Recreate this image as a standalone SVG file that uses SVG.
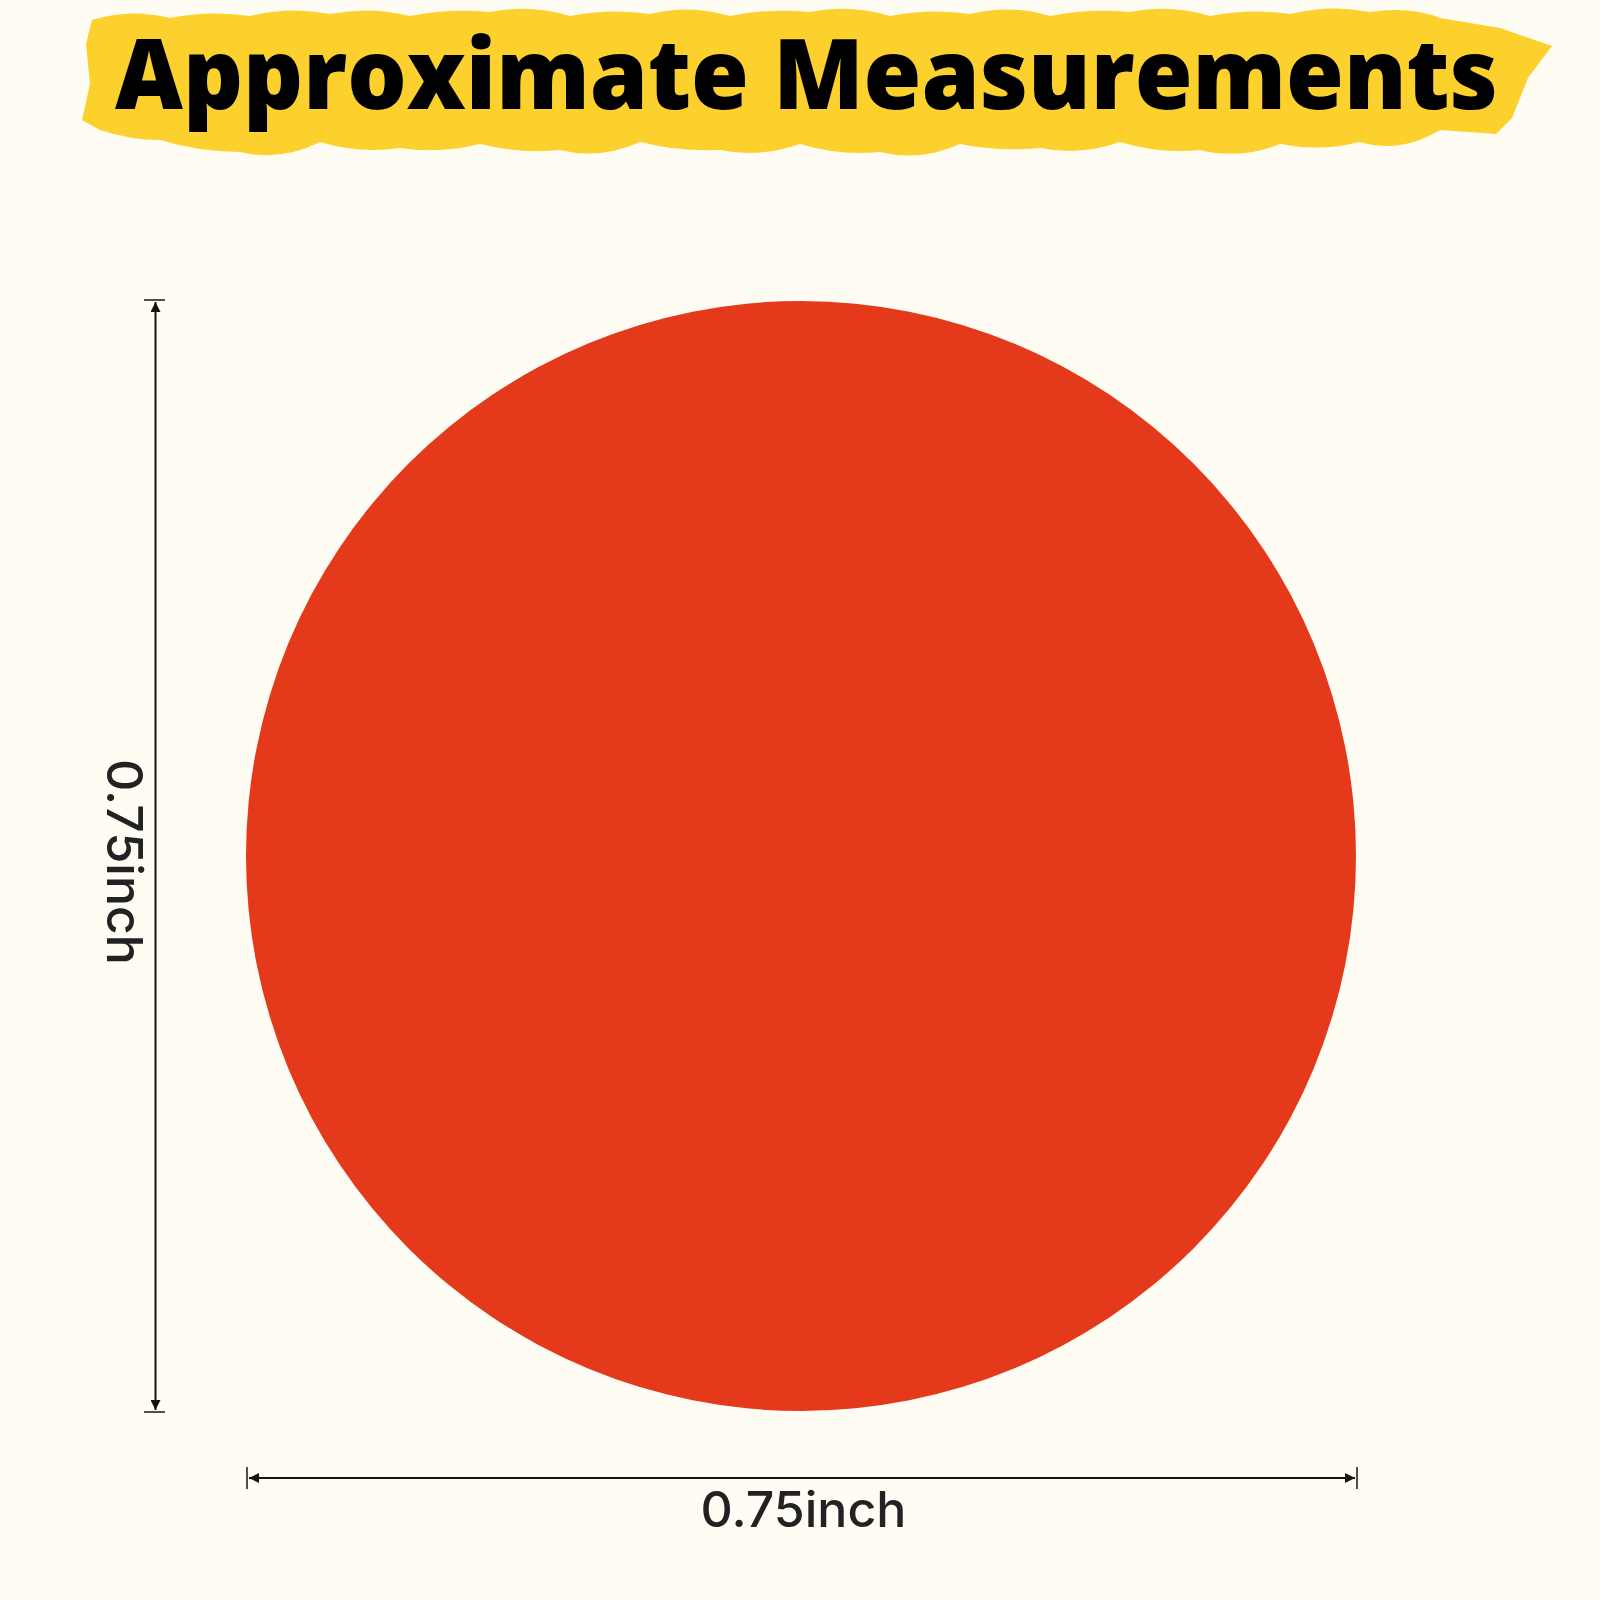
<svg xmlns="http://www.w3.org/2000/svg" width="1600" height="1600" viewBox="0 0 1600 1600">
  <style>
    .dim { stroke: #141414; stroke-width: 2; fill: none; }
    .tick { stroke: #141414; stroke-width: 1.5; }
    .label { font-family: Inter, "Open Sans", "Liberation Sans", sans-serif; font-weight: 500; font-size: 50px; fill: #222222; text-anchor: middle; }
    .title { font-family: "Open Sans", Inter, "Liberation Sans", sans-serif; font-weight: 800; font-size: 97px; fill: #000000; }
  </style>
  <defs>
    <marker id="arrow" viewBox="0 0 10 10" refX="10" refY="5" markerWidth="5" markerHeight="5" orient="auto-start-reverse" markerUnits="strokeWidth">
      <path d="M0,0 L10,5 L0,10 Z" fill="#141414"/>
    </marker>
  </defs>
  <rect x="0" y="0" width="1600" height="1600" fill="#FFFCF4"/>

  <g id="title">
    <path fill="#FCD12E" d="M86,44 L92,20 Q130,8 170,18 Q210,10 250,16 Q290,6 330,14 Q370,6 410,16 Q450,8 490,12 Q530,4 570,16 Q610,8 650,14 Q690,4 730,16 Q770,8 810,12 Q850,4 890,16 Q930,8 970,14 Q1010,4 1050,16 Q1090,8 1130,12 Q1170,4 1210,16 Q1250,8 1290,14 Q1330,4 1370,12 Q1410,6 1440,18 L1500,28 L1552,46 L1528,78 L1512,118 L1496,134 L1440,130 Q1400,154 1360,142 Q1320,152 1280,144 Q1240,160 1200,150 Q1160,154 1120,142 Q1080,156 1040,148 Q1000,152 960,144 Q920,162 880,152 Q840,156 800,144 Q760,158 720,150 Q680,152 640,142 Q600,160 560,150 Q520,154 480,144 Q440,154 400,148 Q360,154 320,142 Q280,162 240,152 Q200,152 160,140 Q130,140 100,130 L82,120 L90,84 Z"/>
    <text class="title" x="115" y="109" textLength="1383" lengthAdjust="spacingAndGlyphs">Approximate Measurements</text>
  </g>

  <g id="sticker">
    <circle cx="801" cy="856" r="555" fill="#E4391B"/>
  </g>

  <g id="connectors">
    <line class="dim" x1="155.5" y1="302" x2="155.5" y2="1410" marker-start="url(#arrow)" marker-end="url(#arrow)"/>
    <line class="tick" x1="144" y1="300" x2="165" y2="300"/>
    <line class="tick" x1="144" y1="1412" x2="165" y2="1412"/>
    <line class="dim" x1="249" y1="1478" x2="1355" y2="1478" marker-start="url(#arrow)" marker-end="url(#arrow)"/>
    <line class="tick" x1="247" y1="1467" x2="247" y2="1489"/>
    <line class="tick" x1="1357" y1="1467" x2="1357" y2="1489"/>
  </g>

  <g id="height-label">
    <text class="label" transform="translate(107,862) rotate(90)" x="0" y="0">0.75inch</text>
  </g>
  <g id="width-label">
    <text class="label" x="803.5" y="1527">0.75inch</text>
  </g>
</svg>
